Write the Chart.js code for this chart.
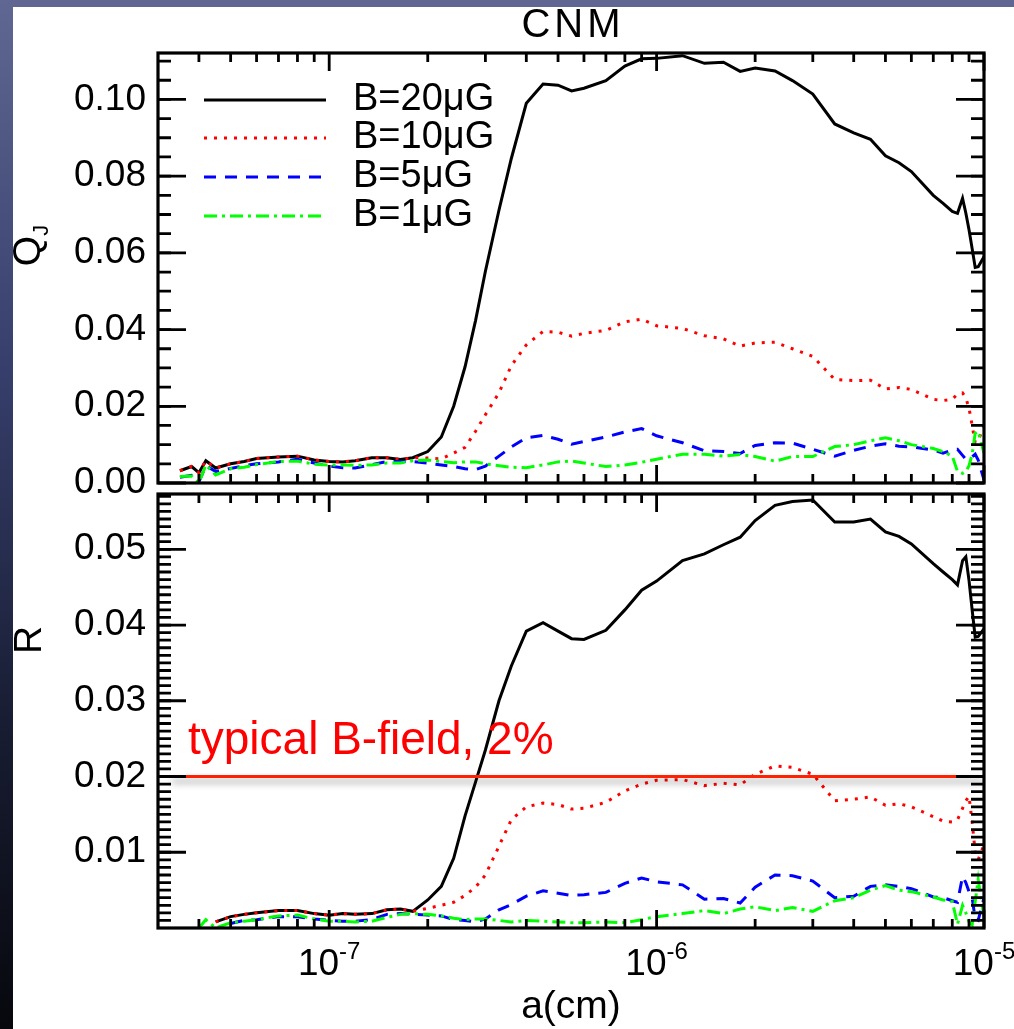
<!DOCTYPE html>
<html>
<head>
<meta charset="utf-8">
<title>CNM</title>
<script src="https://cdn.jsdelivr.net/npm/chart.js@4.4.1/dist/chart.umd.min.js"></script>
<style>
  html, body { margin: 0; padding: 0; }
  body {
    width: 1014px; height: 1029px; overflow: hidden; position: relative;
    background: linear-gradient(to bottom, #5f6792 0%, #37406d 35%, #181d33 70%, #07080d 100%);
  }
  .sheet { position: absolute; left: 13px; top: 7px; right: 0; bottom: 0; background: #fff; }
  canvas { position: absolute; left: 0; }
  #topChart { top: 0; }
  #botChart { top: 470px; }
</style>
</head>
<body>
<div class="sheet"></div>
<canvas id="topChart" width="1014" height="540"></canvas>
<canvas id="botChart" width="1014" height="559"></canvas>
<script>
// grain size grid, cm
const aCm = [
  3.5e-8, 3.8e-8, 4.0e-8, 4.2e-8, 4.5e-8, 5.0e-8, 5.5e-8, 6.0e-8, 7.0e-8, 8.0e-8, 9.0e-8,
  1.0e-7, 1.1e-7, 1.2e-7, 1.35e-7, 1.5e-7, 1.65e-7, 1.8e-7,
  2.0e-7, 2.2e-7, 2.4e-7, 2.6e-7, 2.8e-7, 3.0e-7, 3.3e-7, 3.6e-7,
  4.0e-7, 4.5e-7, 5.0e-7, 5.5e-7, 6.0e-7, 7.0e-7, 8.0e-7, 9.0e-7,
  1.0e-6, 1.2e-6, 1.4e-6, 1.6e-6, 1.8e-6,
  2.0e-6, 2.3e-6, 2.6e-6, 3.0e-6, 3.5e-6,
  4.0e-6, 4.5e-6, 5.0e-6, 5.5e-6, 6.0e-6,
  7.0e-6, 7.5e-6, 8.0e-6, 8.3e-6, 8.6e-6, 8.8e-6, 9.0e-6, 9.2e-6, 9.4e-6, 9.6e-6, 1.0e-5
];

// Q_J, upper panel
const qB20 = [
  0.0032, 0.0043, 0.0027, 0.0058, 0.0039, 0.0050, 0.0056, 0.0064, 0.0068, 0.0070, 0.0060,
  0.0056, 0.0055, 0.0058, 0.0066, 0.0066, 0.0061, 0.0066,
  0.0082, 0.0120, 0.0200, 0.0303, 0.0424, 0.0552, 0.0711, 0.0846,
  0.0990, 0.1040, 0.1037, 0.1022, 0.1029, 0.1049, 0.1087, 0.1106,
  0.1107, 0.1114, 0.1094, 0.1097, 0.1073,
  0.1082, 0.1074, 0.1049, 0.1014, 0.0936,
  0.0913, 0.0896, 0.0853, 0.0835, 0.0812,
  0.0750, 0.0729, 0.0708, 0.0703, 0.0742, 0.0704, 0.0660, 0.0611, 0.0562, 0.0564, 0.0590
];
const qB10 = [
  0.0032, 0.0043, 0.0027, 0.0058, 0.0039, 0.0050, 0.0056, 0.0064, 0.0068, 0.0070, 0.0060,
  0.0056, 0.0055, 0.0058, 0.0066, 0.0066, 0.0061, 0.0066,
  0.0065, 0.0063, 0.0078, 0.0093, 0.0135, 0.0178, 0.0235, 0.0306,
  0.0360, 0.0395, 0.0393, 0.0383, 0.0390, 0.0398, 0.0420, 0.0427,
  0.0410, 0.0403, 0.0384, 0.0376, 0.0357,
  0.0365, 0.0367, 0.0350, 0.0330, 0.0270,
  0.0267, 0.0268, 0.0245, 0.0249, 0.0244,
  0.0218, 0.0215, 0.0218, 0.0232, 0.0235, 0.0222, 0.0195, 0.0150, 0.0105, 0.0110, 0.0150
];
const qB5 = [
  0.0015, 0.0020, 0.0003, 0.0045, 0.0030, 0.0038, 0.0045, 0.0050, 0.0055, 0.0062, 0.0052,
  0.0044, 0.0040, 0.0039, 0.0048, 0.0056, 0.0056, 0.0056,
  0.0052, 0.0047, 0.0043, 0.0037, 0.0035, 0.0044, 0.0070, 0.0094,
  0.0118, 0.0124, 0.0114, 0.0101, 0.0108, 0.0120, 0.0133, 0.0142,
  0.0123, 0.0105, 0.0084, 0.0082, 0.0077,
  0.0098, 0.0105, 0.0104, 0.0088, 0.0070,
  0.0085, 0.0096, 0.0102, 0.0096, 0.0094,
  0.0086, 0.0078, 0.0086, 0.0088, 0.0072, 0.0062, 0.0062, 0.0068, 0.0075, 0.0060, 0.0008
];
const qB1 = [
  0.0017, 0.0018, 0.0000, 0.0047, 0.0021, 0.0037, 0.0041, 0.0048, 0.0056, 0.0057, 0.0049,
  0.0047, 0.0047, 0.0046, 0.0047, 0.0052, 0.0052, 0.0058,
  0.0060, 0.0056, 0.0053, 0.0055, 0.0055, 0.0050, 0.0045, 0.0041,
  0.0040, 0.0047, 0.0055, 0.0057, 0.0052, 0.0043, 0.0047, 0.0054,
  0.0062, 0.0075, 0.0075, 0.0070, 0.0074,
  0.0069, 0.0057, 0.0069, 0.0069, 0.0095,
  0.0100, 0.0110, 0.0118, 0.0110, 0.0100,
  0.0090, 0.0082, 0.0070, 0.0030, 0.0025, 0.0030, 0.0045, 0.0075, 0.0130, 0.0135, 0.0078
];

// R, lower panel
const rB20 = [
  null, null, null, null, 0.0008, 0.0015, 0.0018, 0.0020, 0.0023, 0.0023, 0.0019,
  0.0017, 0.0019, 0.0018, 0.0019, 0.0024, 0.0025, 0.0022,
  0.0037, 0.0055, 0.0092, 0.0148, 0.0193, 0.0235, 0.0300, 0.0346,
  0.0392, 0.0403, 0.0392, 0.0382, 0.0381, 0.0393, 0.0420, 0.0446,
  0.0458, 0.0485, 0.0494, 0.0506, 0.0516,
  0.0538, 0.0558, 0.0563, 0.0565, 0.0536,
  0.0536, 0.0540, 0.0523, 0.0517, 0.0507,
  0.0481, 0.0470, 0.0460, 0.0453, 0.0485, 0.0490, 0.0459, 0.0420, 0.0384, 0.0385, 0.0395
];
const rB10 = [
  null, null, null, null, 0.0008, 0.0015, 0.0018, 0.0020, 0.0023, 0.0023, 0.0019,
  0.0017, 0.0019, 0.0018, 0.0019, 0.0024, 0.0025, 0.0022,
  0.0026, 0.0030, 0.0034, 0.0043, 0.0054, 0.0070, 0.0108, 0.0143,
  0.0160, 0.0165, 0.0163, 0.0157, 0.0158, 0.0166, 0.0181, 0.0190,
  0.0195, 0.0196, 0.0188, 0.0191, 0.0189,
  0.0203, 0.0214, 0.0212, 0.0203, 0.0168,
  0.0170, 0.0173, 0.0162, 0.0164, 0.0160,
  0.0147, 0.0141, 0.0140, 0.0143, 0.0158, 0.0168, 0.0174, 0.0140, 0.0100, 0.0090, 0.0110
];
const rB5 = [
  null, null, null, null, null, 0.0006, 0.0010, 0.0011, 0.0015, 0.0015, 0.0012,
  0.0010, 0.0009, 0.0009, 0.0011, 0.0018, 0.0019, 0.0018,
  0.0017, 0.0016, 0.0011, 0.0010, 0.0008, 0.0012, 0.0024, 0.0031,
  0.0042, 0.0049, 0.0046, 0.0043, 0.0044, 0.0047, 0.0059, 0.0066,
  0.0061, 0.0057, 0.0038, 0.0039, 0.0033,
  0.0054, 0.0070, 0.0069, 0.0062, 0.0040,
  0.0042, 0.0055, 0.0057, 0.0055, 0.0052,
  0.0041, 0.0040, 0.0036, 0.0034, 0.0068, 0.0060, 0.0048, 0.0040, 0.0012, 0.0010, 0.0040
];
const rB1 = [
  null, null, 0.0000, 0.0011, 0.0000, 0.0007, 0.0009, 0.0011, 0.0016, 0.0017, 0.0012,
  0.0009, 0.0009, 0.0008, 0.0009, 0.0014, 0.0018, 0.0019,
  0.0018, 0.0016, 0.0013, 0.0011, 0.0012, 0.0012, 0.0010, 0.0008,
  0.0010, 0.0009, 0.0008, 0.0007, 0.0007, 0.0008, 0.0007, 0.0011,
  0.0015, 0.0019, 0.0023, 0.0019, 0.0025,
  0.0028, 0.0023, 0.0027, 0.0022, 0.0036,
  0.0040, 0.0050, 0.0056, 0.0050, 0.0048,
  0.0041, 0.0037, 0.0035, 0.0005, 0.0030, 0.0020, 0.0008, 0.0004, 0.0035, 0.0064, 0.0015
];

const seriesLabels = ['B=20μG', 'B=10μG', 'B=5μG', 'B=1μG'];
const qTicks = [0.00, 0.02, 0.04, 0.06, 0.08, 0.10];
const rTicks = [0.01, 0.02, 0.03, 0.04, 0.05];
const xTicks = [1e-7, 1e-6, 1e-5];
const xTickExp = ['-7', '-6', '-5'];
const typicalR = 0.02;
const typicalRange = [3.3e-8, 1e-5];

const FONT = '"Liberation Sans", Arial, Helvetica, sans-serif';
const colors = ['#000000', '#ff0000', '#0000ff', '#00ff00'];
const dashes = [[], [3, 7], [12, 9], [13, 5, 3, 5]];

function say(ctx, s, x, y, size, align, base, color) {
  ctx.font = size + 'px ' + FONT;
  ctx.textAlign = align || 'left';
  ctx.textBaseline = base || 'alphabetic';
  ctx.fillStyle = color || '#000';
  ctx.fillText(s, x, y);
}

// IDL-like box: inward ticks on all four sides, labels placed from the scales
function framePlugin(cfg) {
  return {
    id: 'frame',
    afterDraw(chart) {
      const { ctx, chartArea: ca } = chart;
      const xs = chart.scales.x, ys = chart.scales.y;
      ctx.save();
      ctx.strokeStyle = '#000';
      ctx.lineWidth = 2.8;
      ctx.setLineDash([]);

      const tickX = (v, len) => {
        const px = xs.getPixelForValue(v);
        ctx.beginPath();
        ctx.moveTo(px, ca.bottom); ctx.lineTo(px, ca.bottom - len);
        ctx.moveTo(px, ca.top); ctx.lineTo(px, ca.top + len);
        ctx.stroke();
      };
      const tickY = (v, len) => {
        const py = ys.getPixelForValue(v);
        ctx.beginPath();
        ctx.moveTo(ca.left, py); ctx.lineTo(ca.left + len, py);
        ctx.moveTo(ca.right, py); ctx.lineTo(ca.right - len, py);
        ctx.stroke();
      };

      for (let d = -8; d <= -6; d++) {
        for (let k = 2; k <= 9; k++) {
          const v = k * Math.pow(10, d);
          if (v > xs.min * 1.001 && v < xs.max * 0.999) tickX(v, 9);
        }
      }
      xTicks.forEach(v => tickX(v, 18));

      const n = Math.round(ys.max / cfg.minorStep);
      for (let i = 1; i <= n; i++) tickY(i * cfg.minorStep, 13);
      cfg.yTicks.forEach(v => tickY(v, 28));

      ctx.lineWidth = 3.2;
      ctx.strokeRect(ca.left, ca.top, ca.right - ca.left, ca.bottom - ca.top);

      cfg.yTicks.forEach(v => say(ctx, v.toFixed(2), ca.left - 12, ys.getPixelForValue(v), 37, 'right', 'middle'));

      if (cfg.xLabels) {
        xTicks.forEach((v, i) => {
          const px = xs.getPixelForValue(v);
          ctx.font = '37px ' + FONT;
          const w1 = ctx.measureText('10').width;
          ctx.font = '24px ' + FONT;
          const w2 = ctx.measureText(xTickExp[i]).width;
          const left = px - (w1 + w2) / 2;
          say(ctx, '10', left, ca.bottom + 47, 37);
          say(ctx, xTickExp[i], left + w1, ca.bottom + 31, 24);
        });
        say(ctx, 'a(cm)', (ca.left + ca.right) / 2, ca.bottom + 79, 39, 'center', 'middle');
      }
      if (cfg.draw) cfg.draw(chart, ca, xs, ys);
      ctx.restore();
    },
    beforeDatasetDraw(chart, args) {
      if (chart.data.datasets[args.index].shadow) {
        const ctx = chart.ctx;
        ctx.save();
        ctx.shadowColor = 'rgba(0,0,0,0.4)';
        ctx.shadowBlur = 7;
        ctx.shadowOffsetY = 5;
      }
    },
    afterDatasetDraw(chart, args) {
      if (chart.data.datasets[args.index].shadow) chart.ctx.restore();
    }
  };
}

function seriesSets(list) {
  return list.map((s, i) => ({
    label: seriesLabels[i],
    data: aCm.map((a, k) => ({ x: a, y: s[k] })),
    borderColor: colors[i],
    borderWidth: 3,
    borderDash: dashes[i],
    pointRadius: 0,
    tension: 0,
    fill: false,
    spanGaps: false,
    order: 3 - i
  }));
}

function baseOptions(padding, yMax) {
  return {
    responsive: false,
    animation: false,
    devicePixelRatio: 1,
    layout: { padding: padding },
    plugins: { legend: { display: false }, tooltip: { enabled: false } },
    scales: {
      x: { type: 'logarithmic', min: 3e-8, max: 1e-5, display: false },
      y: { type: 'linear', min: 0, max: yMax, display: false }
    }
  };
}

// upper panel: Q_J
new Chart(document.getElementById('topChart').getContext('2d'), {
  type: 'line',
  data: { datasets: seriesSets([qB20, qB10, qB5, qB1]) },
  options: baseOptions({ left: 158, right: 30, top: 53, bottom: 57 }, 0.1121),
  plugins: [framePlugin({
    yTicks: qTicks, minorStep: 0.005, xLabels: false,
    draw(chart, ca) {
      const ctx = chart.ctx;
      ctx.save();
      ctx.letterSpacing = '4px';
      say(ctx, 'CNM', 573, 26, 40, 'center', 'middle');
      ctx.restore();
      // rotated axis title Q_J
      ctx.save();
      ctx.translate(40, 245);
      ctx.rotate(-Math.PI / 2);
      ctx.font = '39px ' + FONT;
      const wq = ctx.measureText('Q').width;
      say(ctx, 'Q', -wq / 2 - 6, 0, 39);
      say(ctx, 'J', wq / 2 - 6, 8, 22);
      ctx.restore();
      // legend
      const ly = [100, 138, 177, 216];
      chart.data.datasets.forEach((ds, i) => {
        ctx.strokeStyle = ds.borderColor;
        ctx.lineWidth = 3;
        ctx.setLineDash(ds.borderDash);
        ctx.beginPath();
        ctx.moveTo(204, ly[i]); ctx.lineTo(326, ly[i]);
        ctx.stroke();
        ctx.setLineDash([]);
        say(ctx, ds.label, 353, ly[i], 38, 'left', 'middle');
      });
    }
  })]
});

// lower panel: R
const rSets = seriesSets([rB20, rB10, rB5, rB1]);
rSets.push({
  label: 'typical',
  data: typicalRange.map(a => ({ x: a, y: typicalR })),
  borderColor: '#ff2200',
  borderWidth: 3,
  pointRadius: 0,
  shadow: true,
  order: -1
});
new Chart(document.getElementById('botChart').getContext('2d'), {
  type: 'line',
  data: { datasets: rSets },
  options: baseOptions({ left: 158, right: 30, top: 24, bottom: 101 }, 0.0573),
  plugins: [framePlugin({
    yTicks: rTicks, minorStep: 0.001, xLabels: true,
    draw(chart, ca, xs, ys) {
      const ctx = chart.ctx;
      say(ctx, 'typical B-field, 2%', 188, ys.getPixelForValue(typicalR) - 23, 46, 'left', 'alphabetic', '#ff0000');
      ctx.save();
      ctx.translate(41, 170);
      ctx.rotate(-Math.PI / 2);
      say(ctx, 'R', 0, 0, 39, 'center', 'alphabetic');
      ctx.restore();
    }
  })]
});
</script>
</body>
</html>
